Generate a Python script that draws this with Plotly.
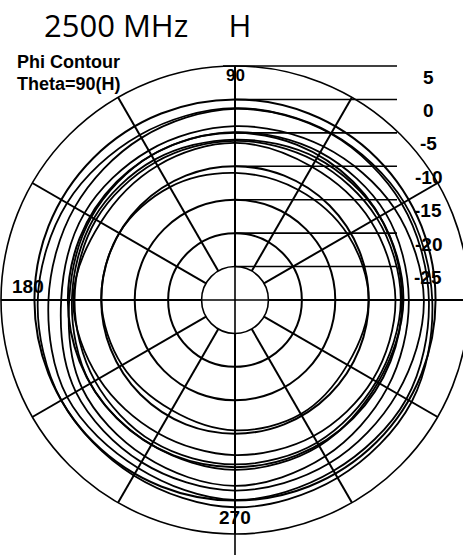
import plotly.graph_objects as go

# ---------------- data ----------------
angles = [0, 30, 60, 90, 120, 150, 180, 210, 240, 270, 300, 330]
curve_a = [-0.5, -0.8, -1.2, -1.3, -1.5, -1.0, -0.5, 0.0, 0.3, 1.0, 0.7, 0.5]
curve_b = [-1.0, -1.2, -1.3, -1.4, -2.0, -2.3, -2.1, -1.0, -1.0, -0.1, -0.5, -0.4]
curve_c = [-1.75, -2.5, -3.5, -4.0, -4.2, -4.0, -4.0, -2.5, -2.0, -1.5, -1.8, -2.0]
curve_d = [-4.0, -4.0, -4.5, -4.9, -5.0, -5.2, -5.2, -3.6, -3.0, -2.2, -3.0, -3.7]
curve_e = [-4.8, -5.0, -5.5, -6.0, -5.8, -5.6, -5.6, -5.0, -5.0, -4.6, -4.8, -5.3]
curve_f = [-5.2, -5.5, -6.0, -6.2, -6.2, -6.0, -6.0, -5.8, -5.5, -5.4, -5.4, -5.6]
curve_g = [-6.0, -6.5, -7.0, -6.5, -6.8, -6.8, -5.8, -6.5, -7.0, -6.8, -6.5, -6.2]
curve_h = [-10.0, -10.5, -11.0, -11.0, -10.5, -10.0, -10.0, -10.5, -11.0, -10.5, -10.3, -10.6]
curves = [curve_a, curve_b, curve_c, curve_d, curve_e, curve_f, curve_g, curve_h]

radial_ticks = [5, 0, -5, -10, -15, -20, -25]
radial_labels = ["5", "0", "-5", "-10", "-15", "-20", "-25"]
r_min, r_max = -30, 5
title_text = "2500 MHz" + "&nbsp;" * 5 + "H"
sub_lines = ["Phi Contour", "Theta=90(H)"]

# ---------------- layout geometry ----------------
W, H = 470, 555
R = 234.0
cx, cy = 235.0, 300.0


def px(x):
    return x / W


def py(y):
    return 1 - y / H


def ring_y(v):
    return cy - R * (v - r_min) / (r_max - r_min)


fig = go.Figure()
for c in curves:
    fig.add_trace(go.Scatterpolar(
        r=c + [c[0]], theta=angles + [360], mode="lines",
        line=dict(color="black", width=1.8, shape="spline"),
        showlegend=False, hoverinfo="skip"))

shapes = []
# axes through the centre
shapes.append(dict(type="line", xref="paper", yref="paper",
                   x0=px(cx - R), x1=1, y0=py(cy), y1=py(cy),
                   line=dict(color="black", width=1.6)))
shapes.append(dict(type="line", xref="paper", yref="paper",
                   x0=px(cx), x1=px(cx), y0=py(cy - R), y1=0,
                   line=dict(color="black", width=1.6)))
# level lines to the dB labels
for v in radial_ticks:
    yy = ring_y(v)
    shapes.append(dict(type="line", xref="paper", yref="paper",
                       x0=px(cx - (12 if v == 5 else 0)), x1=px(397),
                       y0=py(yy), y1=py(yy),
                       line=dict(color="black", width=1.6)))

annotations = []
annotations.append(dict(text=title_text, x=px(42), y=py(25), xref="paper", yref="paper",
                        xanchor="left", yanchor="middle", showarrow=False,
                        font=dict(family="Open Sans", size=31, color="black")))
for i, t in enumerate(sub_lines):
    annotations.append(dict(text="<b>%s</b>" % t, x=px(15), y=py(62 + 22 * i),
                            xref="paper", yref="paper", xanchor="left", yanchor="middle",
                            showarrow=False,
                            font=dict(family="Liberation Sans", size=18, color="black")))
for v, lab in zip(radial_ticks, radial_labels):
    annotations.append(dict(text="<b>%s</b>" % lab, x=px(428), y=py(ring_y(v) + 11),
                            xref="paper", yref="paper", xanchor="center", yanchor="middle",
                            showarrow=False,
                            font=dict(family="Liberation Sans", size=19, color="black")))
annotations.append(dict(text="<b>90</b>", x=px(cx), y=py(cy - R + 10), xref="paper", yref="paper",
                        xanchor="center", yanchor="middle", showarrow=False,
                        font=dict(family="Liberation Sans", size=17, color="black")))
annotations.append(dict(text="<b>180</b>", x=px(cx - R + 27), y=py(cy - 14), xref="paper", yref="paper",
                        xanchor="center", yanchor="middle", showarrow=False,
                        font=dict(family="Liberation Sans", size=19, color="black")))
annotations.append(dict(text="<b>270</b>", x=px(cx), y=py(cy + R - 17), xref="paper", yref="paper",
                        xanchor="center", yanchor="middle", showarrow=False,
                        font=dict(family="Liberation Sans", size=19, color="black")))

fig.update_layout(
    width=W, height=H,
    margin=dict(l=0, r=0, t=0, b=0),
    paper_bgcolor="white", plot_bgcolor="white",
    showlegend=False,
    shapes=shapes, annotations=annotations,
    polar=dict(
        domain=dict(x=[px(cx - R), px(cx + R)], y=[py(cy + R), py(cy - R)]),
        hole=1 / 7,
        bgcolor="white",
        radialaxis=dict(range=[-25, r_max], tickvals=[-25, -20, -15, -10, -5, 0],
                        showticklabels=False, ticks="", showline=False,
                        gridcolor="black", gridwidth=1.5),
        angularaxis=dict(tickvals=list(range(0, 360, 30)), showticklabels=False, ticks="",
                         gridcolor="black", gridwidth=1.5, showline=True,
                         linecolor="black", linewidth=1.6,
                         rotation=0, direction="counterclockwise"),
    ),
)

fig.write_html("out.html", config={"displayModeBar": False},
               post_script="document.body.style.margin='0px';document.body.style.overflow='hidden';")
